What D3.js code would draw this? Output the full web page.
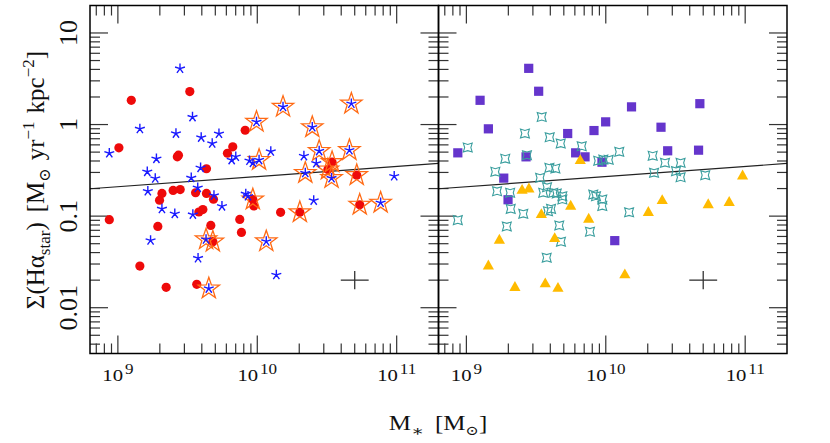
<!DOCTYPE html>
<html>
<head>
<meta charset="utf-8">
<script src="https://cdn.jsdelivr.net/npm/d3@7"></script>
<style>
  html, body { margin: 0; padding: 0; background: #fff; }
  svg text { font-family: "Liberation Serif", "DejaVu Serif", serif; fill: #111; }
</style>
</head>
<body>
<div id="chart"></div>
<script>
// ---------- data (stellar mass in units of 1e9 Msun, surface density in Msun/yr/kpc^2) ----------
const massDomain = [10 ** 8.8, 10 ** 11.3];
const sigmaDomain = [10 ** -2.5, 10 ** 1.3];
const massLabelExp = [9, 10, 11];
const sigmaLabels = ["0.01", "0.1", "1", "10"];

// fit line end points
const fitMass = [10 ** 8.8, 10 ** 11.3];
const fitSigma = [0.199, 0.376];

// typical error bar (dex)
const errPoint = [50, 0.02];
const errDex = 0.1;

// left panel
const redCircles = [
  [0.868,0.0914],[1.017,0.557],[1.248,1.84],[1.438,0.0285],[1.935,0.0772],[1.99,0.149],
  [2.07,0.177],[2.22,0.0167],[2.49,0.191],[2.67,0.444],[2.72,0.463],[2.80,0.195],
  [3.28,2.29],[3.61,0.180],[3.68,0.018],[3.81,0.111],[4.07,0.118],[4.32,0.329],
  [4.32,0.177],[4.64,0.0792],[4.80,0.0526],[4.85,0.153],[6.11,0.486],[6.67,0.571],
  [7.49,0.0920],[7.70,0.0664],[8.19,0.867],[9.29,0.152],[9.44,0.129],[14.7,0.110],
  [20.2,0.110],[34.4,0.388],[32.1,0.323],[51.7,0.280],[54.3,0.133]
];
const blueStars = [
  [0.868,0.486],[1.438,0.898],[1.625,0.305],[1.64,0.187],[1.716,0.0543],[1.854,0.258],
  [1.89,0.423],[2.07,0.120],[2.56,0.106],[2.61,0.798],[2.79,4.08],[3.36,0.262],
  [3.43,1.207],[3.45,0.104],[3.76,0.0348],[3.74,0.204],[3.92,0.337],[3.96,0.722],
  [4.29,0.0557],[4.49,0.0162],[4.75,0.621],[4.89,0.168],[5.31,0.794],[5.58,0.128],
  [6.55,0.410],[7.01,0.446],[8.27,0.175],[8.58,0.165],[8.79,0.403],[9.31,0.382],
  [9.87,1.07],[10.3,0.410],[11.6,0.053],[12.5,0.508],[13.7,0.0228],[15.3,1.56],
  [21.6,0.453],[22.1,0.296],[24.8,0.935],[25.4,0.148],[26.5,0.378],[27.8,0.514],
  [34.1,0.260],[45.8,0.525],[47.3,1.69],[76.7,0.140],[96.0,0.273]
];
const orangeRings = [
  [4.29,0.0557],[4.49,0.0162],[4.80,0.0526],[9.29,0.152],[9.87,1.07],[10.3,0.410],
  [11.6,0.053],[15.3,1.56],[20.2,0.110],[22.1,0.296],[24.8,0.935],[27.8,0.514],
  [32.1,0.323],[34.1,0.260],[34.4,0.388],[45.8,0.525],[47.3,1.69],[51.7,0.280],
  [54.3,0.133],[76.7,0.140]
];

// right panel
const purpleSquares = [
  [0.868,0.491],[1.254,1.84],[1.438,0.898],[1.854,0.260],[1.99,0.151],[2.68,0.444],
  [2.80,4.11],[3.30,2.31],[5.33,0.798],[6.08,0.491],[7.10,0.444],[8.23,0.860],
  [9.39,0.388],[9.98,1.07],[11.6,0.054],[15.3,1.56],[24.9,0.935],[27.8,0.517],
  [46.3,0.525],[47.3,1.69]
];
const tealStars = [
  [0.868,0.0904],[1.023,0.561],[1.614,0.305],[1.66,0.187],[1.90,0.423],[1.95,0.0772],
  [2.06,0.180],[2.08,0.120],[2.56,0.106],[2.63,0.798],[2.72,0.463],[3.38,0.262],
  [3.47,1.21],[3.56,0.180],[3.77,0.0352],[3.79,0.207],[3.85,0.113],[4.05,0.120],
  [3.94,0.337],[4.35,0.331],[3.96,0.727],[4.20,0.180],[4.45,0.177],[4.64,0.0792],
  [4.75,0.621],[4.77,0.0526],[4.88,0.165],[4.88,0.152],[6.72,0.580],[7.70,0.0676],
  [8.13,0.172],[8.51,0.165],[8.83,0.402],[9.60,0.415],[10.5,0.412],[9.44,0.152],
  [9.44,0.129],[12.5,0.504],[14.7,0.110],[21.7,0.456],[22.2,0.297],[26.6,0.382],
  [31.9,0.310],[34.4,0.382],[34.4,0.266],[51.7,0.280]
];
const yellowTriangles = [
  [1.438,0.0292],[1.725,0.0557],[2.23,0.0170],[2.51,0.195],[2.81,0.202],[3.45,0.106],
  [3.68,0.0186],[4.30,0.0581],[4.54,0.0166],[5.60,0.131],[6.56,0.412],[7.54,0.0944],
  [13.7,0.0233],[20.2,0.112],[25.4,0.151],[54.3,0.136],[76.8,0.144],[95.8,0.280]
];

// ---------- layout ----------
const width = 830, height = 443;
const plotTop = 5.5, plotBottom = 353.5;
const panels = [
  { x0: 90, x1: 438.5 },
  { x0: 438.5, x1: 787 }
];

const svg = d3.select("#chart").append("svg")
  .attr("width", width)
  .attr("height", height);

const y = d3.scaleLog().domain(sigmaDomain).range([plotBottom, plotTop]);
const xScales = panels.map(p => d3.scaleLog().domain(massDomain).range([p.x0, p.x1]));

const isMajor = v => Math.abs(Math.log10(v) - Math.round(Math.log10(v))) < 1e-6;

// symbol paths
function starPath(rOut, rIn, n, rot) {
  const pts = [];
  for (let i = 0; i < 2 * n; i++) {
    const r = i % 2 ? rIn : rOut;
    const a = rot + i * Math.PI / n;
    pts.push([r * Math.cos(a), r * Math.sin(a)]);
  }
  return "M" + pts.map(p => p.join(",")).join("L") + "Z";
}
function asteriskPath(r, n) {
  let d = "";
  for (let i = 0; i < n; i++) {
    const a = -Math.PI / 2 + i * 2 * Math.PI / n;
    d += `M0,0L${r * Math.cos(a)},${r * Math.sin(a)}`;
  }
  return d;
}
const bigStar = starPath(11.2, 4.4, 5, -Math.PI / 2);
const blueAst = asteriskPath(5.2, 5);
const tealStar = starPath(6.3, 3.1, 4, -Math.PI / 4);
const triPath = "M0,-5.6L5.6,4.3L-5.6,4.3Z";

function drawPanel(i) {
  const x = xScales[i];
  const p = panels[i];
  const g = svg.append("g").attr("class", "panel-" + i);

  // ticks on all four sides
  const tickG = g.append("g").attr("stroke", "#333").attr("stroke-width", 1.2);
  x.ticks().forEach(v => {
    const len = isMajor(v) ? 18 : 10;
    const xx = x(v);
    tickG.append("line").attr("x1", xx).attr("x2", xx).attr("y1", plotTop).attr("y2", plotTop + len);
    tickG.append("line").attr("x1", xx).attr("x2", xx).attr("y1", plotBottom).attr("y2", plotBottom - len);
  });
  y.ticks().forEach(v => {
    const len = isMajor(v) ? 18 : 10;
    const yy = y(v);
    tickG.append("line").attr("x1", p.x0).attr("x2", p.x0 + len).attr("y1", yy).attr("y2", yy);
    tickG.append("line").attr("x1", p.x1).attr("x2", p.x1 - len).attr("y1", yy).attr("y2", yy);
  });

  // tick labels (slightly widened glyphs, like the original plotting font)
  massLabelExp.forEach(e => {
    const t = g.append("text")
      .attr("transform", `translate(${x(10 ** e)},381) scale(1.22,1)`)
      .attr("text-anchor", "middle")
      .style("font-size", "17px");
    t.append("tspan").text("10");
    t.append("tspan").attr("dx", 1.5).attr("dy", -7).style("font-size", "14px").text(e);
  });

  // fit line
  g.append("line")
    .attr("x1", x(fitMass[0])).attr("y1", y(fitSigma[0]))
    .attr("x2", x(fitMass[1])).attr("y2", y(fitSigma[1]))
    .attr("stroke", "#222").attr("stroke-width", 1.2);

  // error cross
  const ex = errPoint[0] * 1e9, ey = errPoint[1];
  g.append("line")
    .attr("x1", x(ex / 10 ** errDex)).attr("x2", x(ex * 10 ** errDex))
    .attr("y1", y(ey)).attr("y2", y(ey))
    .attr("stroke", "#333").attr("stroke-width", 1.3);
  g.append("line")
    .attr("x1", x(ex)).attr("x2", x(ex))
    .attr("y1", y(ey / 10 ** errDex)).attr("y2", y(ey * 10 ** errDex))
    .attr("stroke", "#333").attr("stroke-width", 1.3);

  return { g, x };
}

const left = drawPanel(0);
const right = drawPanel(1);

function place(x) {
  return d => `translate(${x(d[0] * 1e9)},${y(d[1])})`;
}

// left panel marks
left.g.append("g").selectAll("circle").data(redCircles).join("circle")
  .attr("cx", d => left.x(d[0] * 1e9)).attr("cy", d => y(d[1]))
  .attr("r", 4.6).attr("fill", "#ee0a0a");
left.g.append("g").selectAll("path").data(orangeRings).join("path")
  .attr("transform", place(left.x)).attr("d", bigStar)
  .attr("fill", "none").attr("stroke", "#ff6a14").attr("stroke-width", 1.3);
left.g.append("g").selectAll("path").data(blueStars).join("path")
  .attr("transform", place(left.x)).attr("d", blueAst)
  .attr("fill", "none").attr("stroke", "#1a1aff").attr("stroke-width", 1.4);

// right panel marks
right.g.append("g").selectAll("rect").data(purpleSquares).join("rect")
  .attr("x", d => right.x(d[0] * 1e9) - 4.6).attr("y", d => y(d[1]) - 4.6)
  .attr("width", 9.2).attr("height", 9.2).attr("fill", "#6535cc");
right.g.append("g").selectAll("path").data(tealStars).join("path")
  .attr("transform", place(right.x)).attr("d", tealStar)
  .attr("fill", "none").attr("stroke", "#3a9e9e").attr("stroke-width", 1.1);
right.g.append("g").selectAll("path").data(yellowTriangles).join("path")
  .attr("transform", place(right.x)).attr("d", triPath)
  .attr("fill", "#ffbb00");

// frames
panels.forEach(p => {
  svg.append("rect")
    .attr("x", p.x0).attr("y", plotTop)
    .attr("width", p.x1 - p.x0).attr("height", plotBottom - plotTop)
    .attr("fill", "none").attr("stroke", "#000").attr("stroke-width", 1.5);
});

// y tick labels (rotated)
sigmaLabels.forEach(s => {
  svg.append("text")
    .attr("transform", `translate(77,${y(+s)}) rotate(-90)`)
    .attr("text-anchor", "middle")
    .style("font-size", "26px")
    .text(s);
});

// axis titles
const xt = svg.append("text")
  .attr("transform", "translate(438,430) scale(1.25,1)")
  .attr("text-anchor", "middle")
  .style("font-size", "20px");
xt.append("tspan").text("M");
xt.append("tspan").attr("dy", 6).style("font-size", "15px").text("∗");
xt.append("tspan").attr("dx", 9).attr("dy", -6).text("[M");
xt.append("tspan").attr("dy", 5).style("font-size", "13px").text("⊙");
xt.append("tspan").attr("dy", -5).text("]");

const yt = svg.append("text")
  .attr("transform", "translate(44,180) rotate(-90)")
  .attr("text-anchor", "middle")
  .style("font-size", "25px");
yt.append("tspan").text("Σ(Hα");
yt.append("tspan").attr("dy", 6).style("font-size", "17px").text("star");
yt.append("tspan").attr("dy", -6).text(")");
yt.append("tspan").attr("dx", 10).text("[M");
yt.append("tspan").attr("dy", 6).style("font-size", "16px").text("⊙");
yt.append("tspan").attr("dx", 8).attr("dy", -6).text("yr");
yt.append("tspan").attr("dy", -10).style("font-size", "17px").text("−1");
yt.append("tspan").attr("dx", 8).attr("dy", 10).text("kpc");
yt.append("tspan").attr("dy", -10).style("font-size", "17px").text("−2");
yt.append("tspan").attr("dy", 10).text("]");
</script>
</body>
</html>
